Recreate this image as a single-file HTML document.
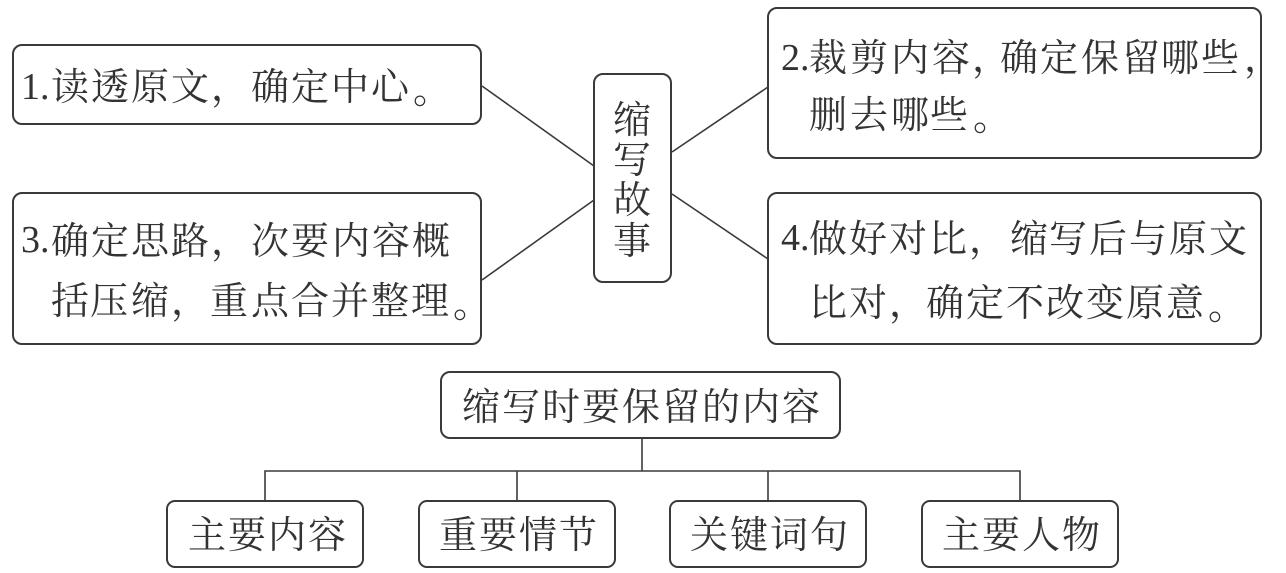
<!DOCTYPE html>
<html lang="zh-CN"><head><meta charset="utf-8">
<style>
html,body{margin:0;padding:0;background:#fff}
svg{display:block}
text{font-family:"Liberation Serif","Noto Serif CJK SC",serif;font-size:38px;fill:#333}
rect{fill:none;stroke:#3a3a3a;stroke-width:2}
line,polyline{stroke:#3a3a3a;stroke-width:1.6;fill:none}
</style></head><body>
<svg width="1286" height="573" viewBox="0 0 1286 573" xmlns="http://www.w3.org/2000/svg">
<rect x="13" y="45" width="468" height="79" rx="9"/>
<rect x="13" y="193" width="468" height="151" rx="9"/>
<rect x="594" y="74" width="77" height="208" rx="9"/>
<rect x="768" y="8" width="493" height="150" rx="9"/>
<rect x="768" y="193" width="493" height="151" rx="9"/>
<rect x="441" y="372" width="399" height="66" rx="9"/>
<rect x="167" y="501" width="196" height="66" rx="8"/>
<rect x="419" y="501" width="196" height="66" rx="8"/>
<rect x="670" y="501" width="196" height="66" rx="8"/>
<rect x="922" y="501" width="196" height="66" rx="8"/>
<line x1="482" y1="86" x2="594" y2="166"/>
<line x1="482" y1="280" x2="594" y2="200"/>
<line x1="672" y1="152" x2="768" y2="87"/>
<line x1="672" y1="194" x2="768" y2="259"/>
<line x1="642" y1="438" x2="642" y2="471"/>
<polyline points="265,501 265,471 1020,471 1020,501"/>
<line x1="517" y1="471" x2="517" y2="501"/>
<line x1="768" y1="471" x2="768" y2="501"/>

<text x="21" y="99">1</text><text x="40" y="99">.</text>
<text x="51 91 131 171 211 251 291 331 371" y="100">读透原文，确定中心</text><text x="413" y="103">。</text>

<text x="21" y="252">3</text><text x="40" y="252">.</text>
<text x="51 91 131 171 211 251 291 332 372 412" y="254">确定思路，次要内容概</text>
<text x="51 90 131 171 210 251 291 331 371 411" y="314">括压缩，重点合并整理</text><text x="453" y="317">。</text>

<text x="781" y="70">2</text><text x="800" y="70">.</text>
<text x="809 850 891 932 972 1000 1040 1081 1122 1161 1201 1244" y="71">裁剪内容，确定保留哪些，</text>
<text x="809 850 891 930" y="128">删去哪些</text><text x="973" y="130">。</text>

<text x="781" y="250">4</text><text x="800" y="250">.</text>
<text x="809 849 889 929 969 1010 1049 1089 1129 1169 1209" y="252">做好对比，缩写后与原文</text>
<text x="809 849 889 926 966 1006 1046 1086 1126 1166" y="316">比对，确定不改变原意</text><text x="1208" y="319">。</text>

<text x="613" y="133">缩</text>
<text x="613" y="173">写</text>
<text x="613" y="213">故</text>
<text x="613" y="254">事</text>

<text x="462 502 542 582 622 662 702 742 782" y="420">缩写时要保留的内容</text>
<text x="188 228 268 308" y="548">主要内容</text>
<text x="439 479 519 559" y="548">重要情节</text>
<text x="690 730 770 810" y="548">关键词句</text>
<text x="942 982 1022 1062" y="548">主要人物</text>
</svg>
</body></html>
